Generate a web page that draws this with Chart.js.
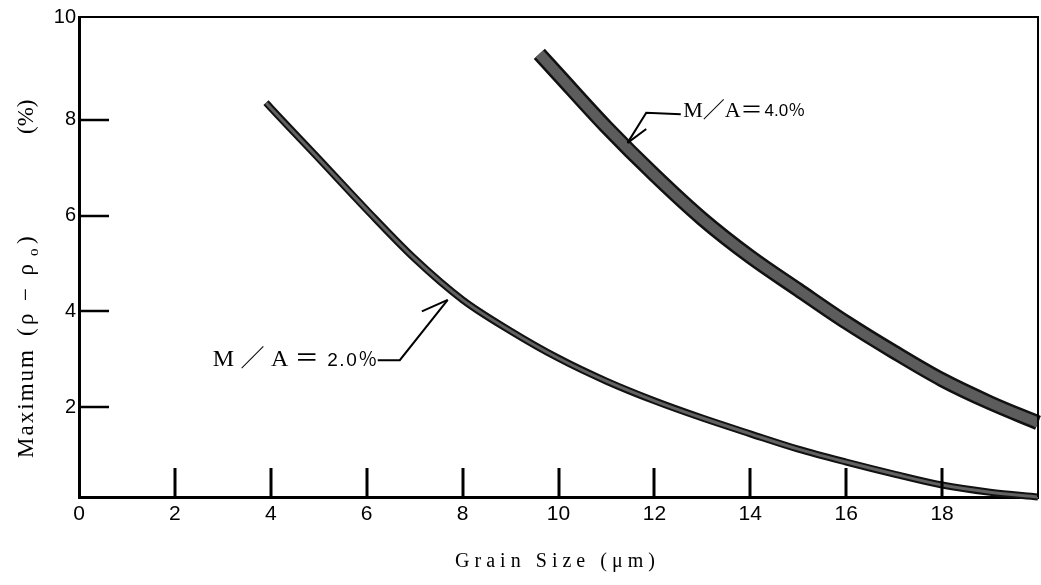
<!DOCTYPE html>
<html><head><meta charset="utf-8">
<script src="https://cdn.jsdelivr.net/npm/chart.js@4/dist/chart.umd.min.js"></script>
<style>html,body{margin:0;padding:0;background:#fff}canvas{display:block}</style>
</head><body>
<canvas id="c" width="1041" height="585"></canvas>
<script>
// ---- data ----
const xTickValues = [0, 2, 4, 6, 8, 10, 12, 14, 16, 18];
const xTickLabels = ['0', '2', '4', '6', '8', '10', '12', '14', '16', '18'];
const yTickValues = [2, 4, 6, 8, 10];
const yTickLabels = ['2', '4', '6', '8', '10'];

const grainSize20 = [3.9, 4, 5, 6, 7, 8, 9, 10, 11, 12, 13, 14, 15, 16, 17, 18, 19, 20];
const maxRho20   = [8.36, 8.25, 7.19, 6.12, 5.10, 4.24, 3.59, 3.02, 2.54, 2.13, 1.77, 1.44, 1.12, 0.85, 0.60, 0.37, 0.22, 0.12];

const grainSize40 = [9.6, 10, 11, 12, 13, 14, 15, 16, 17, 18, 19, 20];
const maxRho40   = [9.38, 8.94, 7.85, 6.85, 5.93, 5.14, 4.45, 3.77, 3.15, 2.57, 2.09, 1.67];

const seriesNames = ['M／A＝2.0％', 'M／A＝4.0％'];
const xTitle = 'Grain Size (μm)';
const yTitleParts = ['Maximum', '(ρ − ρ', 'o', ')', '(%)'];

// ---- helpers ----
const pts = (xs, ys) => xs.map((x, i) => ({x: x, y: ys[i]}));

function drawSpaced(ctx, text, x, y, target) {
  const chars = Array.from(text);
  let w = 0;
  const ws = chars.map(c => { const m = ctx.measureText(c).width; w += m; return m; });
  const gap = chars.length > 1 ? Math.max(0, (target - w) / (chars.length - 1)) : 0;
  let cx = x;
  ctx.textAlign = 'left';
  chars.forEach((c, i) => { ctx.fillText(c, cx, y); cx += ws[i] + gap; });
  return cx;
}

const frameAndTicks = {
  id: 'frameAndTicks',
  afterDatasetsDraw(chart) {
    const {ctx, chartArea: a, scales: {x, y}} = chart;
    ctx.save();
    ctx.strokeStyle = '#000';
    ctx.lineCap = 'butt';
    ctx.lineWidth = 2;
    ctx.beginPath();
    ctx.moveTo(a.left, a.top); ctx.lineTo(a.right, a.top); ctx.lineTo(a.right, a.bottom);
    ctx.stroke();
    ctx.lineWidth = 3;
    xTickValues.forEach(v => {
      if (v === 0) return;
      const px = Math.round(x.getPixelForValue(v));
      ctx.beginPath(); ctx.moveTo(px, a.bottom); ctx.lineTo(px, a.bottom - 29); ctx.stroke();
    });
    ctx.lineWidth = 2.5;
    yTickValues.forEach(v => {
      if (v === 10) return;
      const py = Math.round(y.getPixelForValue(v));
      ctx.beginPath(); ctx.moveTo(a.left, py); ctx.lineTo(a.left + 30, py); ctx.stroke();
    });
    ctx.restore();
  }
};

const annotations = [
  { text: ['M／A＝', '2.0％'], at: [2.79, 2.98], sizes: [24, 19], widths: [106, 50],
    leader: [[6.23, 2.98], [6.69, 2.98], [7.69, 4.24]], barb: [[7.69, 4.24], [7.15, 4.0]] },
  { text: ['M／A＝', '4.0％'], at: [12.6, 8.19], sizes: [22, 17], widths: [0, 0],
    leader: [[12.55, 8.12], [11.83, 8.15], [11.44, 7.52]], barb: [[11.44, 7.52], [11.83, 7.81]] }
];

const annotate = {
  id: 'annotate',
  afterDatasetsDraw(chart) {
    const {ctx, scales: {x, y}} = chart;
    ctx.save();
    ctx.fillStyle = '#000';
    ctx.strokeStyle = '#000';
    ctx.lineWidth = 2;
    annotations.forEach(an => {
      const line = (p) => {
        ctx.beginPath();
        p.forEach((q, i) => {
          const px = x.getPixelForValue(q[0]), py = y.getPixelForValue(q[1]);
          i ? ctx.lineTo(px, py) : ctx.moveTo(px, py);
        });
        ctx.stroke();
      };
      line(an.leader); line(an.barb);
      const tx = x.getPixelForValue(an.at[0]), ty = y.getPixelForValue(an.at[1]);
      ctx.textBaseline = 'middle';
      ctx.font = an.sizes[0] + 'px "Liberation Serif", "Noto Sans CJK JP", serif';
      const end0 = drawSpaced(ctx, an.text[0], tx, ty, an.widths[0]);
      ctx.font = an.sizes[1] + 'px "Liberation Sans", "Noto Sans CJK JP", sans-serif';
      drawSpaced(ctx, an.text[1], end0 + 2, ty + 1, an.widths[1]);
    });
    ctx.restore();
  }
};

const titles = {
  id: 'titles',
  afterDraw(chart) {
    const {ctx} = chart;
    ctx.save();
    ctx.fillStyle = '#000';
    ctx.textBaseline = 'middle';
    ctx.font = '20px "Liberation Serif", "DejaVu Serif", serif';
    drawSpaced(ctx, xTitle, 455, 562, 200);
    ctx.translate(27, 0);
    ctx.rotate(-Math.PI / 2);
    ctx.font = '23px "Liberation Serif", "DejaVu Serif", serif';
    drawSpaced(ctx, yTitleParts[0], -458, 0, 108);
    drawSpaced(ctx, yTitleParts[1], -336, 0, 72);
    ctx.font = '15px "Liberation Serif", "DejaVu Serif", serif';
    ctx.fillText(yTitleParts[2], -256, 7);
    ctx.font = '23px "Liberation Serif", "DejaVu Serif", serif';
    ctx.fillText(yTitleParts[3], -244, 0);
    drawSpaced(ctx, yTitleParts[4], -134, 0, 28);
    ctx.restore();
  }
};

const Y_MIN = 0.12, Y_MAX = 10.15;

const common = { pointRadius: 0, fill: false, cubicInterpolationMode: 'monotone', borderCapStyle: 'butt', borderJoinStyle: 'round', clip: false };

new Chart(document.getElementById('c'), {
  type: 'line',
  data: {
    datasets: [
      Object.assign({ label: seriesNames[0], data: pts(grainSize20, maxRho20), borderColor: '#111111', borderWidth: 7, order: 2 }, common),
      Object.assign({ label: seriesNames[0] + ' core', data: pts(grainSize20, maxRho20), borderColor: '#626262', borderWidth: 3, order: 1 }, common),
      Object.assign({ label: seriesNames[1], data: pts(grainSize40, maxRho40), borderColor: '#111111', borderWidth: 15, order: 2 }, common),
      Object.assign({ label: seriesNames[1] + ' core', data: pts(grainSize40, maxRho40), borderColor: '#5c5c5c', borderWidth: 10, order: 1 }, common)
    ]
  },
  options: {
    responsive: false,
    animation: false,
    devicePixelRatio: 1,
    layout: { padding: { top: 17, right: 3, left: 0, bottom: 0 } },
    plugins: { legend: { display: false }, tooltip: { enabled: false } },
    scales: {
      x: {
        type: 'linear', min: 0, max: 20,
        afterBuildTicks: s => { s.ticks = xTickValues.map(v => ({value: v})); },
        afterFit: s => { s.height = 88; },
        ticks: {
          padding: 5, color: '#000', maxRotation: 0, autoSkip: false,
          font: { family: '"Liberation Sans Narrow", "Liberation Sans", sans-serif', size: 21 },
          callback: (v, i) => xTickLabels[i]
        },
        grid: { display: false, drawTicks: false },
        border: { display: true, color: '#000', width: 3 }
      },
      y: {
        type: 'linear', min: Y_MIN, max: Y_MAX,
        afterBuildTicks: s => { s.ticks = yTickValues.map(v => ({value: v === 10 ? s.max : v})); },
        afterFit: s => { s.width = 79; },
        ticks: {
          padding: 3, color: '#000', autoSkip: false,
          font: { family: '"Liberation Sans Narrow", "Liberation Sans", sans-serif', size: 20 },
          callback: (v, i) => yTickLabels[i]
        },
        grid: { display: false, drawTicks: false },
        border: { display: true, color: '#000', width: 3 }
      }
    }
  },
  plugins: [frameAndTicks, annotate, titles]
});
</script>
</body></html>
